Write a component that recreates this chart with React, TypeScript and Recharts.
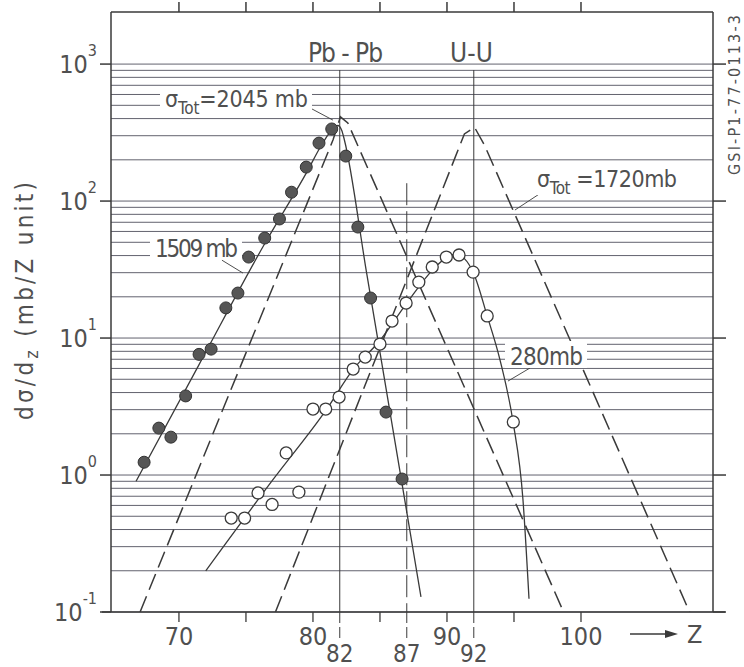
import React from 'react';
import { ComposedChart, Line, Scatter, XAxis, YAxis, ReferenceLine } from 'recharts';

const FONT = "'Liberation Sans Narrow', 'DejaVu Sans Condensed', 'DejaVu Sans', sans-serif";
const INK = '#3a3a3a';
const TEXT = '#505050';
const GRID = '#62626e';

const X_DOMAIN: [number, number] = [64.93, 109.85];
const Y_DOMAIN: [number, number] = [0.1, 2400];

// axis ticks
const BOTTOM_TICKS = [70, 75, 80, 82, 85, 87, 90, 92, 95, 100];
const MARKED_Z = [82, 87, 92];
const TOP_TICKS = [70, 75, 80, 85, 90, 95, 100];
const DECADES = [0.1, 1, 10, 100, 1000];

// log paper lines
const MANTISSAS = [1, 2, 3, 4, 5, 6, 7, 8, 9];
const GRID_DECADES = [0.1, 1, 10, 100];
const gridValues = [...GRID_DECADES.flatMap((d) => MANTISSAS.map((m) => m * d)), 1000];

// Pb-Pb measured (filled circles)
const pbPoints = [
  { z: 67.4, v: 1.24 }, { z: 68.5, v: 2.2 }, { z: 69.4, v: 1.89 }, { z: 70.5, v: 3.78 },
  { z: 71.5, v: 7.6 }, { z: 72.4, v: 8.3 }, { z: 73.5, v: 16.6 }, { z: 74.4, v: 21.3 },
  { z: 75.2, v: 39 }, { z: 76.4, v: 53.7 }, { z: 77.5, v: 74 }, { z: 78.4, v: 116 },
  { z: 79.5, v: 177 }, { z: 80.45, v: 265 }, { z: 81.4, v: 336 }, { z: 82.45, v: 213 },
  { z: 83.35, v: 64.6 }, { z: 84.3, v: 19.6 }, { z: 85.45, v: 2.88 }, { z: 86.65, v: 0.935 },
];

// U-U measured (open circles)
const uPoints = [
  { z: 73.9, v: 0.485 }, { z: 74.9, v: 0.485 }, { z: 75.9, v: 0.74 }, { z: 76.95, v: 0.61 },
  { z: 78.0, v: 1.45 }, { z: 78.95, v: 0.75 }, { z: 80.0, v: 3.03 }, { z: 80.95, v: 3.03 },
  { z: 81.95, v: 3.71 }, { z: 83.0, v: 5.94 }, { z: 83.9, v: 7.26 }, { z: 85.0, v: 9.04 },
  { z: 85.9, v: 13.3 }, { z: 86.95, v: 18 }, { z: 87.9, v: 25.6 }, { z: 88.9, v: 33 },
  { z: 89.95, v: 39 }, { z: 90.9, v: 40.4 }, { z: 91.95, v: 30.3 }, { z: 93.0, v: 14.5 },
  { z: 94.95, v: 2.44 },
];

// solid fits through the data
const pbFit = [
  { z: 66.8, v: 0.9 }, { z: 71.5, v: 6.4 }, { z: 76.3, v: 47 }, { z: 79.5, v: 160 },
  { z: 80.7, v: 262 }, { z: 81.5, v: 338 }, { z: 81.85, v: 356 }, { z: 82.15, v: 328 },
  { z: 82.35, v: 278 }, { z: 84.0, v: 30 }, { z: 86.0, v: 2.06 }, { z: 88.06, v: 0.129 },
];
const uFit = [
  { z: 72.0, v: 0.2 }, { z: 77.0, v: 0.92 }, { z: 81.0, v: 3.0 }, { z: 83.0, v: 5.9 },
  { z: 85.0, v: 9.6 }, { z: 87.0, v: 18 }, { z: 89.0, v: 32 }, { z: 90.0, v: 39 },
  { z: 90.6, v: 41 }, { z: 91.3, v: 38 }, { z: 92.0, v: 29.5 }, { z: 93.0, v: 14.5 },
  { z: 93.96, v: 6.9 }, { z: 94.93, v: 2.44 }, { z: 95.67, v: 0.66 }, { z: 96.12, v: 0.125 },
];

// dashed total cross sections
const pbTotal = [
  { z: 67.1, v: 0.1 }, { z: 81.5, v: 280 }, { z: 82.05, v: 412 }, { z: 82.6, v: 372 }, { z: 98.7, v: 0.1 },
];
const uTotal = [
  { z: 77.2, v: 0.1 }, { z: 91.3, v: 309 }, { z: 92.06, v: 345 }, { z: 92.8, v: 256 }, { z: 108.1, v: 0.1 },
];

// label leader lines
const leaders = [
  [{ x: 79.93, y: 470 }, { x: 81.49, y: 390 }],
  [{ x: 73.21, y: 37 }, { x: 74.78, y: 29.8 }],
  [{ x: 97.09, y: 116 }, { x: 95.07, y: 86 }],
  [{ x: 96.19, y: 6.04 }, { x: 94.55, y: 4.85 }],
];

const BottomTick = ({ x, y, payload }: any) => {
  const v = payload.value;
  if (MARKED_Z.includes(v)) {
    return (
      <g>
        <line x1={x} x2={x} y1={y} y2={y + 27} stroke={INK} strokeWidth={1} strokeDasharray="11 4" />
        <text x={x} y={y + 50} textAnchor="middle" fontSize={24} fill={TEXT} fontFamily={FONT}>{v}</text>
      </g>
    );
  }
  return (
    <g>
      <line x1={x} x2={x} y1={y} y2={y + 10} stroke={INK} strokeWidth={1.3} />
      {v % 10 === 0 && (
        <text x={x} y={y + 33} textAnchor="middle" fontSize={25} fill={TEXT} fontFamily={FONT}>{v}</text>
      )}
    </g>
  );
};

const LeftTick = ({ x, y, payload }: any) => {
  const exp = Math.round(Math.log10(payload.value));
  return (
    <text x={x} y={y + 9} textAnchor="end" fontSize={25} fill={TEXT} fontFamily={FONT}>
      10<tspan dy={-17} fontSize={16}>{exp}</tspan>
    </text>
  );
};

const NoTick = () => <g />;

const FilledDot = ({ cx, cy }: any) => (
  <circle cx={cx} cy={cy} r={6} fill="#565656" stroke="#333" strokeWidth={1} />
);
const OpenDot = ({ cx, cy }: any) => (
  <circle cx={cx} cy={cy} r={6} fill="#fff" stroke={INK} strokeWidth={1.3} />
);

const Overlay = () => (
  <svg width={744} height={667} style={{ position: 'absolute', left: 0, top: 0, pointerEvents: 'none' }}
    fontFamily={FONT} fill={TEXT}>
    <text transform="translate(33,420) rotate(-90)" fontSize={24} textLength={238} lengthAdjust="spacing">
      dσ/d<tspan dy={5} fontSize={18}>z</tspan><tspan dy={-5}> (mb/Z unit)</tspan>
    </text>
    <text transform="translate(740,175) rotate(-90)" fontSize={16} textLength={160} lengthAdjust="spacing">
      GSI-P1-77-0113-3
    </text>

    <text x={308} y={62} fontSize={26} textLength={75} lengthAdjust="spacing">Pb - Pb</text>
    <text x={450} y={62} fontSize={26} textLength={43} lengthAdjust="spacing">U - U</text>

    <rect x={160} y={86} width={152} height={30} fill="#fff" />
    <text x={165} y={107} fontSize={23} textLength={143} lengthAdjust="spacing">
      σ<tspan dy={7} fontSize={17}>Tot</tspan><tspan dy={-7}>=2045 mb</tspan>
    </text>

    <rect x={150} y={234} width={92} height={25} fill="#fff" />
    <text x={155} y={257} fontSize={24} textLength={83} lengthAdjust="spacing">1509 mb</text>

    <rect x={532} y={166} width={150} height={29} fill="#fff" />
    <text x={537} y={187} fontSize={23} textLength={140} lengthAdjust="spacing">
      σ<tspan dy={7} fontSize={17}>Tot</tspan><tspan dy={-7}> =1720mb</tspan>
    </text>

    <rect x={505} y={341} width={82} height={27} fill="#fff" />
    <text x={510} y={365} fontSize={24} textLength={73} lengthAdjust="spacing">280mb</text>

    <line x1={630} y1={634} x2={668} y2={634} stroke={INK} strokeWidth={1.5} />
    <polygon points="665,630 678,634 665,638" fill={INK} />
    <text x={687} y={643} fontSize={25}>Z</text>
  </svg>
);

export default function App() {
  return (
    <div style={{ position: 'absolute', left: 0, top: 0, width: 744, height: 667, background: '#fff' }}>
      <ComposedChart width={744} height={667} margin={{ top: 0, right: 0, bottom: 0, left: 0 }}>
        <XAxis xAxisId="b" dataKey="z" type="number" domain={X_DOMAIN} allowDataOverflow
          ticks={BOTTOM_TICKS} interval={0} height={55} tickSize={0} tickMargin={0}
          axisLine={false} tickLine={false} tick={BottomTick} />
        <XAxis xAxisId="t" orientation="top" dataKey="z" type="number" domain={X_DOMAIN} allowDataOverflow
          ticks={TOP_TICKS} interval={0} height={12} tickSize={10} stroke={INK} strokeWidth={1.5} tick={NoTick} />
        <YAxis yAxisId="l" dataKey="v" scale="log" type="number" domain={Y_DOMAIN} allowDataOverflow
          ticks={DECADES} interval={0} width={111} tickSize={11} tickMargin={3}
          stroke={INK} strokeWidth={1.5} tick={LeftTick} />
        <YAxis yAxisId="r" orientation="right" scale="log" type="number" domain={Y_DOMAIN} allowDataOverflow
          ticks={DECADES} interval={0} width={31} tickSize={13} stroke={INK} strokeWidth={1.5} tick={NoTick} />

        {gridValues.map((g) => (
          <ReferenceLine key={g} xAxisId="b" yAxisId="l" y={g} stroke={GRID} strokeWidth={1} />
        ))}

        <ReferenceLine xAxisId="b" yAxisId="l" ifOverflow="visible" stroke={INK} strokeWidth={1.5}
          segment={[{ x: 64.25, y: 0.1 }, { x: 110.75, y: 0.1 }]} />
        <ReferenceLine xAxisId="b" yAxisId="l" stroke={INK} strokeWidth={1}
          segment={[{ x: 82, y: 905 }, { x: 82, y: 0.1 }]} />
        <ReferenceLine xAxisId="b" yAxisId="l" stroke={INK} strokeWidth={1}
          segment={[{ x: 92, y: 905 }, { x: 92, y: 0.1 }]} />
        <ReferenceLine xAxisId="b" yAxisId="l" stroke={INK} strokeWidth={1} strokeDasharray="22 6"
          segment={[{ x: 87, y: 135 }, { x: 87, y: 0.1 }]} />

        {leaders.map((seg, i) => (
          <ReferenceLine key={`lead-${i}`} xAxisId="b" yAxisId="l" stroke={INK} strokeWidth={0.9} segment={seg} />
        ))}

        <Line xAxisId="b" yAxisId="l" data={pbTotal} dataKey="v" type="linear" stroke={INK}
          strokeWidth={1.5} strokeDasharray="17 7" dot={false} isAnimationActive={false} />
        <Line xAxisId="b" yAxisId="l" data={uTotal} dataKey="v" type="linear" stroke={INK}
          strokeWidth={1.5} strokeDasharray="17 7" dot={false} isAnimationActive={false} />
        <Line xAxisId="b" yAxisId="l" data={pbFit} dataKey="v" type="monotone" stroke={INK}
          strokeWidth={1.3} dot={false} isAnimationActive={false} />
        <Line xAxisId="b" yAxisId="l" data={uFit} dataKey="v" type="monotone" stroke={INK}
          strokeWidth={1.3} dot={false} isAnimationActive={false} />

        <Scatter xAxisId="b" yAxisId="l" data={pbPoints} dataKey="v" shape={FilledDot} isAnimationActive={false} />
        <Scatter xAxisId="b" yAxisId="l" data={uPoints} dataKey="v" shape={OpenDot} isAnimationActive={false} />
      </ComposedChart>
      <Overlay />
    </div>
  );
}
